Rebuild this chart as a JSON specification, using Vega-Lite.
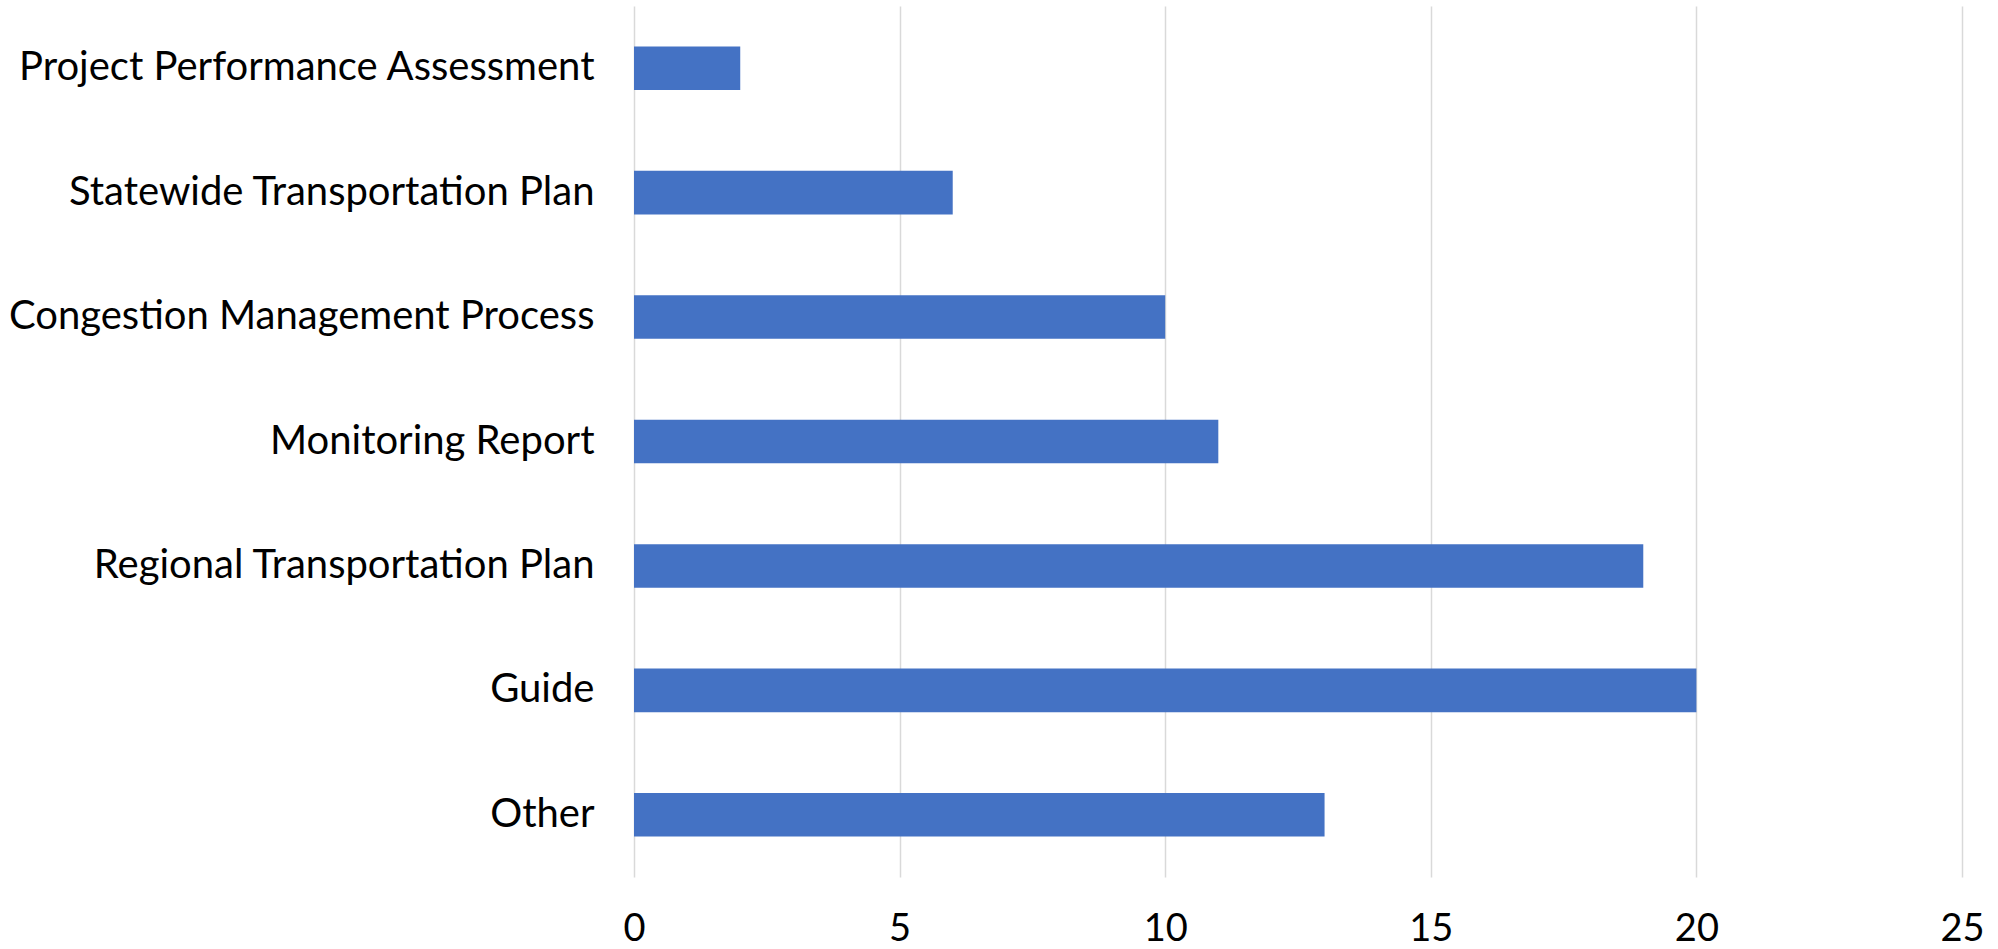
{
  "$schema": "https://vega.github.io/schema/vega-lite/v6.json",
  "autosize": "none",
  "width": 1328,
  "height": 871,
  "padding": {"left": 634, "top": 6, "right": 36, "bottom": 72},
  "background": "white",
  "data": {
    "values": [
      {"category": "Project Performance Assessment", "count": 2},
      {"category": "Statewide Transportation Plan", "count": 6},
      {"category": "Congestion Management Process", "count": 10},
      {"category": "Monitoring Report", "count": 11},
      {"category": "Regional Transportation Plan", "count": 19},
      {"category": "Guide", "count": 20},
      {"category": "Other", "count": 13}
    ]
  },
  "mark": {"type": "bar", "color": "#4472C4"},
  "encoding": {
    "y": {
      "field": "category",
      "type": "nominal",
      "sort": null,
      "title": null,
      "scale": {"paddingInner": 0.65, "paddingOuter": 0.325},
      "axis": {
        "domain": false,
        "ticks": false,
        "labelPadding": 40,
        "labelFont": "Lato",
        "labelFontSize": 40,
        "labelColor": "#000000",
        "labelLimit": 700
      }
    },
    "x": {
      "field": "count",
      "type": "quantitative",
      "title": null,
      "scale": {"domain": [0, 25], "nice": false},
      "axis": {
        "values": [0, 5, 10, 15, 20, 25],
        "domain": false,
        "ticks": false,
        "grid": true,
        "gridColor": "#d9d9d9",
        "gridWidth": 1.5,
        "labelFlush": false,
        "labelPadding": 33,
        "labelFont": "Lato",
        "labelFontSize": 38,
        "labelColor": "#000000"
      }
    }
  },
  "config": {"view": {"stroke": null}}
}
